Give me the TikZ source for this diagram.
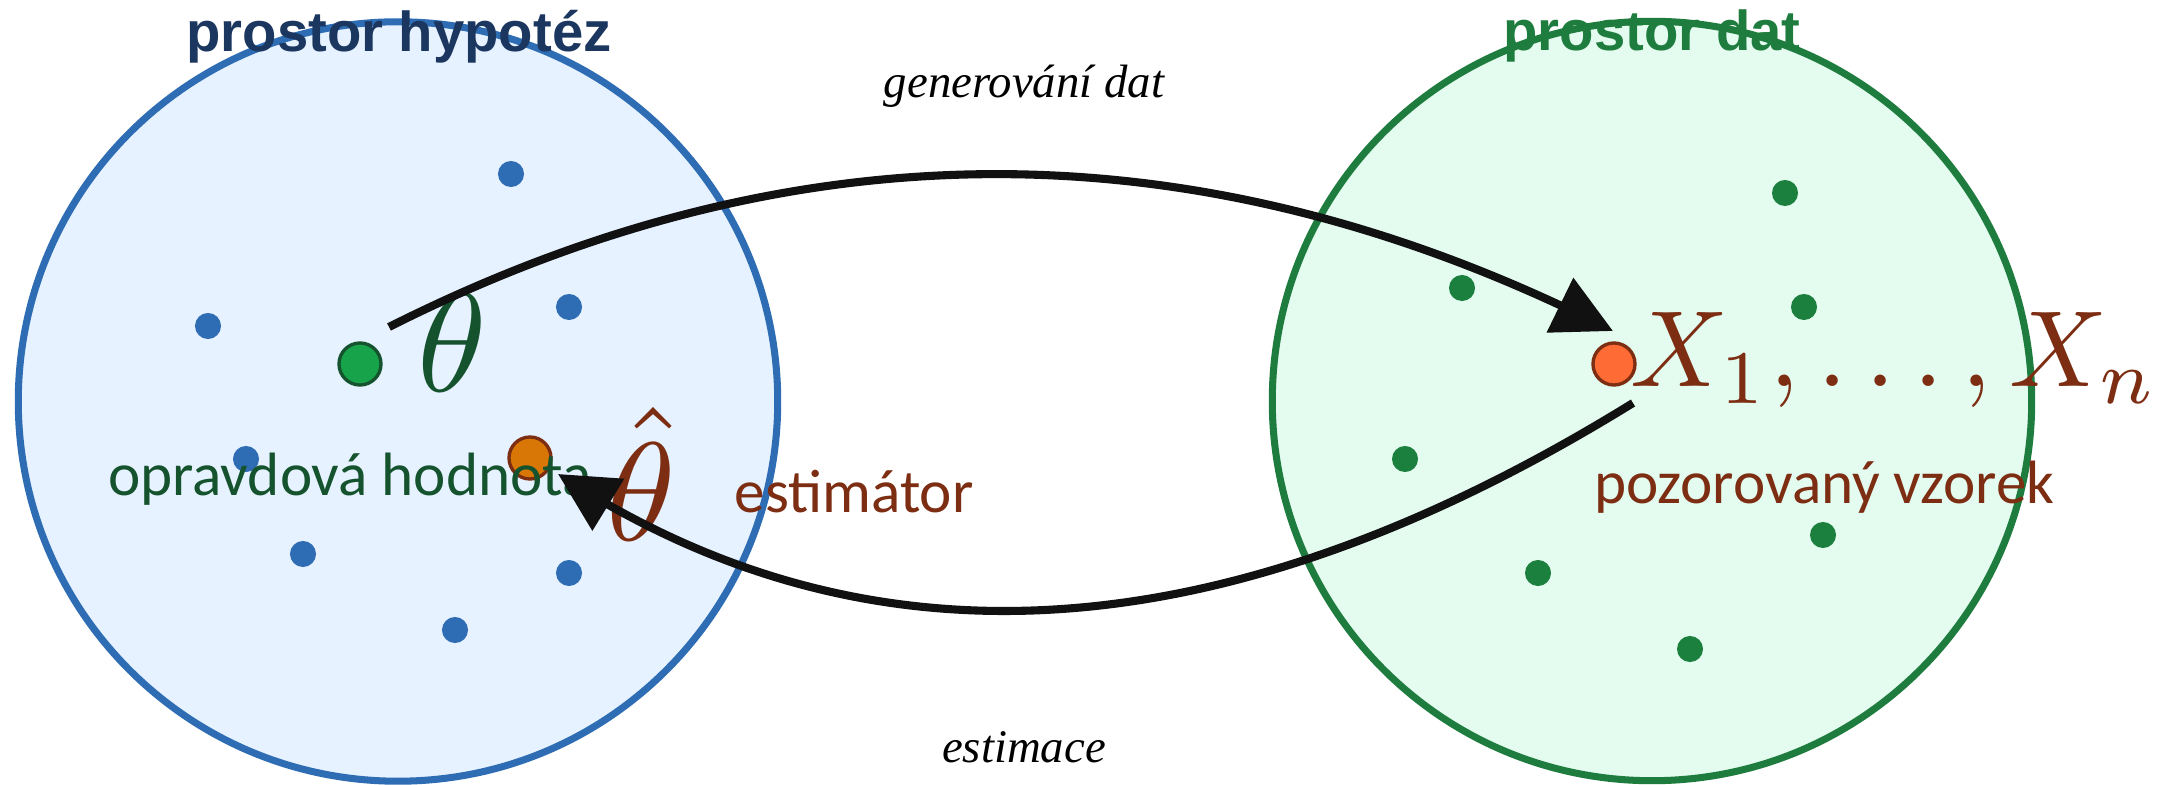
\documentclass[tikz,border=0pt]{standalone}
\usepackage{graphicx}
\usepackage[no-math]{fontspec}
\newfontfamily\titlefont{Liberation Sans}
\newfontfamily\labfont{Carlito}
\newfontfamily\serfont{Liberation Serif}
\usetikzlibrary{arrows.meta,bending}
\definecolor{hypline}{HTML}{2E6DB4}
\definecolor{hypfill}{HTML}{E6F2FF}
\definecolor{hyptitle}{HTML}{1B365F}
\definecolor{datline}{HTML}{1E7D3E}
\definecolor{datfill}{HTML}{E4FBEF}
\definecolor{datdot}{HTML}{1B7F3E}
\definecolor{thcol}{HTML}{14532D}
\definecolor{thfill}{HTML}{16A34A}
\definecolor{estfill}{HTML}{D97706}
\definecolor{brn}{HTML}{7C2D12}
\definecolor{xfill}{HTML}{FF6B35}
\definecolor{arrowc}{HTML}{111111}
\begin{document}
\begin{tikzpicture}[x=0.01cm,y=-0.01cm,
  space/.style={circle, inner sep=0pt, outer sep=0pt, minimum size=7.59cm, line width=2pt},
  hyp/.style={space, draw=hypline, fill=hypfill},
  dat/.style={space, draw=datline, fill=datfill},
  smalldot/.style={circle, inner sep=0pt, minimum size=0.26cm},
  bdot/.style={smalldot, fill=hypline},
  gdot/.style={smalldot, fill=datdot},
  bigdot/.style={circle, inner sep=0pt, minimum size=0.42cm, line width=0.95pt},
  titletext/.style={font=\titlefont\bfseries\fontsize{16}{19}\selectfont, inner sep=0pt, anchor=base},
  lab/.style={font=\labfont\fontsize{17.4}{21}\selectfont, inner sep=0pt, anchor=base},
  arrlab/.style={font=\serfont\itshape\fontsize{13.3}{16}\selectfont, inner sep=0pt, anchor=base, text=black},
  mathlab/.style={inner sep=0pt, anchor=base west},
  arr/.style={draw=arrowc, line width=2.3pt, -{Triangle[length=0.59cm,width=0.59cm]}}
]
\useasboundingbox (0,0) rectangle (2177,785);
\fill[white] (0,0) rectangle (2177,785);

% spaces
\node[hyp] (H) at (398,401.5) {};
\node[dat] (D) at (1652,401) {};

% hypothesis dots
\node[bdot] (b1) at (511,174) {};
\node[bdot] (b2) at (208,326) {};
\node[bdot] (b3) at (569,307) {};
\node[bdot] (b4) at (246,459) {};
\node[bdot] (b5) at (303,554) {};
\node[bdot] (b6) at (569,573) {};
\node[bdot] (b7) at (455,630) {};

% data dots
\node[gdot] (g1) at (1785,193) {};
\node[gdot] (g2) at (1462,288) {};
\node[gdot] (g3) at (1804,307) {};
\node[gdot] (g4) at (1405,459) {};
\node[gdot] (g5) at (1823,535) {};
\node[gdot] (g6) at (1538,573) {};
\node[gdot] (g7) at (1690,649) {};

% highlighted points
\node[bigdot, draw=thcol, fill=thfill] (thdot) at (360,364) {};
\node[bigdot, draw=brn, fill=estfill] (hatdot) at (530,458) {};
\node[bigdot, draw=brn, fill=xfill] (xdot) at (1614,364) {};

% titles
\node[titletext, text=hyptitle] (ht) at (399,52) {prostor hypotéz};
\node[titletext, text=datline] (dtt) at (1652,51) {prostor dat};

% labels
\node[arrlab] (gl) at (1024,98) {generování dat};
\node[arrlab] (el) at (1024,762) {estimace};
\node[lab, text=thcol] (tl) at (350,495) {opravdová hodnota};
\node[lab, text=brn] (esl) at (854,513) {estimátor};
\node[lab, text=brn] (pl) at (1824.5,504) {pozorovaný vzorek};

% math labels
\node[mathlab, text=thcol] (th) at (417,392) {\scalebox{3.98}{$\theta$}};
\node[mathlab, text=brn] (thh) at (606,541) {\scalebox{3.98}{$\hat\theta$}};
\node[mathlab, text=brn] (xs) at (1630,387) {\scalebox{3.08}{$X_1,\ldotp\ldotp\ldotp,X_n$}};

% arrows
\coordinate (gS) at (389,327);
\coordinate (gE) at (1613,331);
\draw[arr] (gS) .. controls (796,122) and (1204,123) .. (gE);
\coordinate (eS) at (1633,403);
\coordinate (eE) at (558,474);
\draw[arr] (eS) .. controls (1227,654) and (869,678) .. (eE);
\end{tikzpicture}
\end{document}
